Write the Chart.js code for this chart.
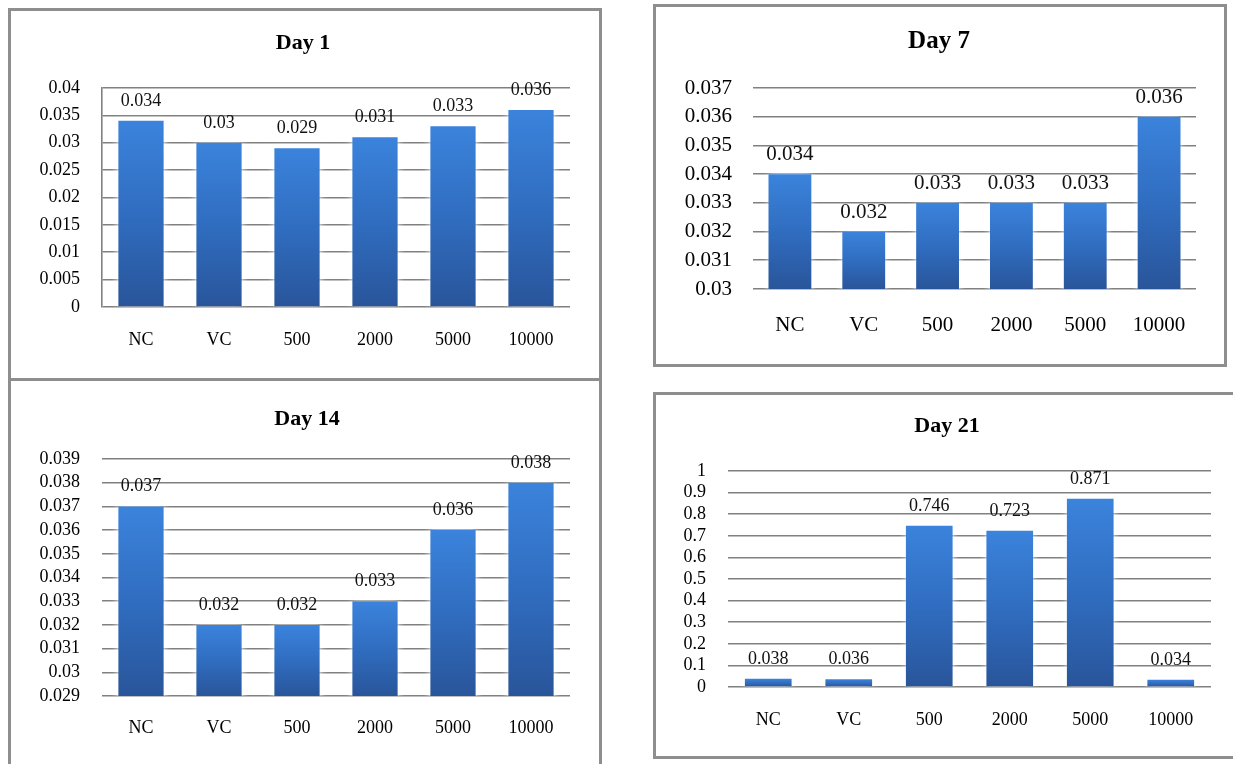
<!DOCTYPE html>
<html>
<head>
<meta charset="utf-8">
<script src="https://cdn.jsdelivr.net/npm/chart.js@4.4.1/dist/chart.umd.min.js"></script>
<style>
  html, body { margin: 0; padding: 0; background: #fff; }
  body { position: relative; width: 1233px; height: 764px; overflow: hidden; }
  .panel { position: absolute; box-sizing: border-box; border: 3px solid #8e8e8e; background: #fff; }
  canvas { position: absolute; }
</style>
</head>
<body>
<div class="panel" style="left:8px;top:8px;width:594px;height:373px"></div>
<div class="panel" style="left:8px;top:378px;width:594px;height:420px"></div>
<div class="panel" style="left:653px;top:4px;width:574px;height:363px"></div>
<div class="panel" style="left:653px;top:392px;width:620px;height:367px"></div>

<canvas id="day1"></canvas>
<canvas id="day7"></canvas>
<canvas id="day14"></canvas>
<canvas id="day21"></canvas>

<script>
// Groups shown on every chart
const categories = ['NC', 'VC', '500', '2000', '5000', '10000'];

// Measured values per day
const day1Values  = [0.034, 0.030, 0.029, 0.031, 0.033, 0.036];
const day7Values  = [0.034, 0.032, 0.033, 0.033, 0.033, 0.036];
const day14Values = [0.037, 0.032, 0.032, 0.033, 0.036, 0.038];
const day21Values = [0.038, 0.036, 0.746, 0.723, 0.871, 0.034];

// Y-axis tick values per day
const day1Ticks  = [0, 0.005, 0.01, 0.015, 0.02, 0.025, 0.03, 0.035, 0.04];
const day7Ticks  = [0.03, 0.031, 0.032, 0.033, 0.034, 0.035, 0.036, 0.037];
const day14Ticks = [0.029, 0.03, 0.031, 0.032, 0.033, 0.034, 0.035, 0.036, 0.037, 0.038, 0.039];
const day21Ticks = [0, 0.1, 0.2, 0.3, 0.4, 0.5, 0.6, 0.7, 0.8, 0.9, 1];

const SERIF = '"Liberation Serif", "Times New Roman", serif';
const GRID = '#808080';

// Bold heading centred at a given point of the canvas
const heading = {
  id: 'heading',
  afterDraw(chart, args, opts) {
    const ctx = chart.ctx;
    ctx.save();
    ctx.font = 'bold ' + opts.size + 'px ' + SERIF;
    ctx.fillStyle = '#000';
    ctx.textAlign = 'center';
    ctx.textBaseline = 'middle';
    ctx.fillText(opts.text, opts.x, opts.y);
    ctx.restore();
  }
};

// Numbers printed just above each bar
const valueLabels = {
  id: 'valueLabels',
  afterDatasetsDraw(chart, args, opts) {
    const ctx = chart.ctx;
    const meta = chart.getDatasetMeta(0);
    const data = chart.data.datasets[0].data;
    ctx.save();
    ctx.font = opts.size + 'px ' + SERIF;
    ctx.fillStyle = '#111';
    ctx.textAlign = 'center';
    ctx.textBaseline = 'alphabetic';
    meta.data.forEach((bar, i) => {
      ctx.fillText(String(data[i]), bar.x, bar.y - opts.gap);
    });
    ctx.restore();
  }
};

// Soft white glow around the bars
const barGlow = {
  id: 'barGlow',
  beforeDatasetsDraw(chart) {
    const ctx = chart.ctx;
    ctx.save();
    ctx.shadowColor = 'rgba(255,255,255,0.95)';
    ctx.shadowBlur = 7;
  },
  afterDatasetsDraw(chart) {
    chart.ctx.restore();
  }
};

function barGradient(c) {
  const chart = c.chart;
  const y = chart.scales && chart.scales.y;
  if (!y || c.type !== 'data') return '#3270c2';
  const top = y.getPixelForValue(c.raw);
  const bottom = y.getPixelForValue(y.min);
  if (!isFinite(top) || !isFinite(bottom) || top === bottom) return '#3270c2';
  const g = chart.ctx.createLinearGradient(0, top, 0, bottom);
  g.addColorStop(0, '#3b83dc');
  g.addColorStop(0.5, '#306dc0');
  g.addColorStop(1, '#29559a');
  return g;
}

function makeChart(id, values, ticks, title, L) {
  const canvas = document.getElementById(id);
  canvas.width = L.box.width;
  canvas.height = L.box.height;
  canvas.style.left = L.box.left + 'px';
  canvas.style.top = L.box.top + 'px';

  const boxRight = L.box.left + L.box.width;
  const boxBottom = L.box.top + L.box.height;
  const padRight = boxRight - L.plot.right;
  const padTop = L.plot.top - L.box.top;
  const yWidth = L.plot.left - L.box.left;
  const xHeight = boxBottom - L.plot.bottom;
  const xPad = L.xLabelY - L.plot.bottom - (L.tickSize * 1.2) / 2;
  const yPad = L.plot.left - L.yLabelRight;

  return new Chart(canvas, {
    type: 'bar',
    data: {
      labels: categories,
      datasets: [{
        data: values,
        backgroundColor: barGradient,
        borderWidth: 0,
        categoryPercentage: 1,
        barPercentage: 0.58
      }]
    },
    options: {
      responsive: false,
      animation: false,
      devicePixelRatio: 1,
      layout: { padding: { left: 0, right: padRight, top: padTop, bottom: 0 } },
      plugins: {
        legend: { display: false },
        tooltip: { enabled: false },
        title: { display: false },
        heading: { text: title, size: L.titleSize, x: L.titleX - L.box.left, y: L.titleY - L.box.top },
        valueLabels: { size: L.labelSize, gap: L.labelGap }
      },
      scales: {
        x: {
          grid: { display: false, drawTicks: false },
          border: { display: false },
          ticks: {
            color: '#000',
            padding: xPad,
            autoSkip: false,
            maxRotation: 0,
            font: { family: SERIF, size: L.tickSize, lineHeight: 1.2 }
          },
          afterFit(s) { s.height = xHeight; }
        },
        y: {
          min: ticks[0],
          max: ticks[ticks.length - 1],
          grid: { color: GRID, lineWidth: 1.6, drawTicks: false },
          border: { display: L.axisLine, color: GRID, width: 1.6 },
          ticks: {
            color: '#000',
            padding: yPad,
            autoSkip: false,
            font: { family: SERIF, size: L.tickSize, lineHeight: 1.2 },
            callback: (v) => String(v)
          },
          afterBuildTicks(s) { s.ticks = ticks.map(v => ({ value: v })); },
          afterFit(s) { s.width = yWidth; }
        }
      }
    },
    plugins: [barGlow, valueLabels, heading]
  });
}

makeChart('day1', day1Values, day1Ticks, 'Day 1', {
  box: { left: 9, top: 9, width: 591, height: 370 },
  plot: { left: 102, right: 570, top: 88, bottom: 307 },
  titleX: 303, titleY: 43, titleSize: 22,
  tickSize: 18, yLabelRight: 80, xLabelY: 340,
  labelSize: 18, labelGap: 15, axisLine: true
});

makeChart('day7', day7Values, day7Ticks, 'Day 7', {
  box: { left: 654, top: 5, width: 572, height: 361 },
  plot: { left: 753, right: 1196, top: 88, bottom: 289 },
  titleX: 939, titleY: 42, titleSize: 25,
  tickSize: 21, yLabelRight: 732, xLabelY: 325,
  labelSize: 21, labelGap: 14, axisLine: false
});

makeChart('day14', day14Values, day14Ticks, 'Day 14', {
  box: { left: 9, top: 379, width: 591, height: 385 },
  plot: { left: 102, right: 570, top: 459, bottom: 696 },
  titleX: 307, titleY: 419, titleSize: 22,
  tickSize: 18, yLabelRight: 80, xLabelY: 728,
  labelSize: 18, labelGap: 15, axisLine: false
});

makeChart('day21', day21Values, day21Ticks, 'Day 21', {
  box: { left: 654, top: 393, width: 579, height: 365 },
  plot: { left: 728, right: 1211, top: 471, bottom: 687 },
  titleX: 947, titleY: 426, titleSize: 22,
  tickSize: 18, yLabelRight: 706, xLabelY: 720,
  labelSize: 18, labelGap: 15, axisLine: false
});
</script>
</body>
</html>
